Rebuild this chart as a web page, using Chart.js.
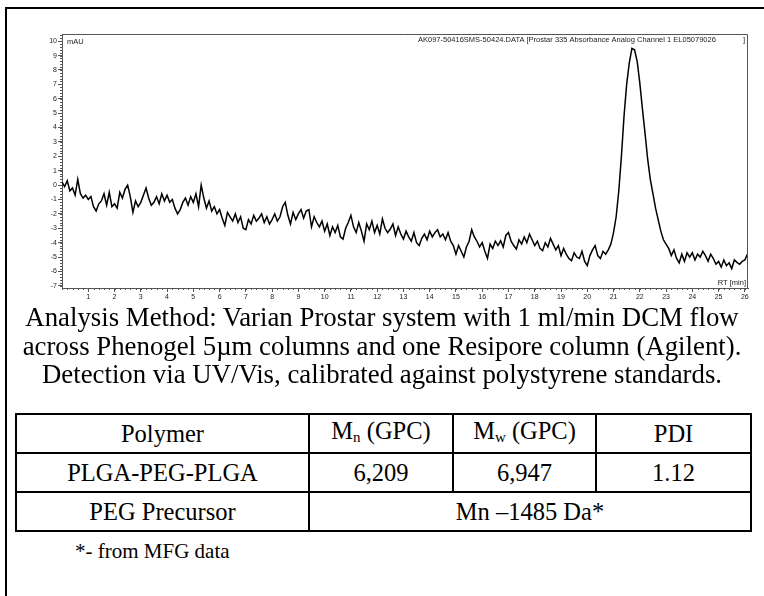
<!DOCTYPE html>
<html>
<head>
<meta charset="utf-8">
<script src="https://cdn.jsdelivr.net/npm/chart.js@4.4.1/dist/chart.umd.min.js"></script>
<style>
    body { margin: 0; background: #fff; font-family: "Liberation Serif", "Times New Roman", "DejaVu Serif", serif; }
    #frame { position: absolute; left: 5px; top: 7px; width: 800px; height: 700px; border: 2px solid #000; }
    #chartBox { position: absolute; left: 0; top: 0; width: 764px; height: 305px; }
    #method { position: absolute; left: 0; top: 303px; width: 764px; text-align: center; font-size: 26.8px; line-height: 28.5px; color: #000; }
    #results { position: absolute; left: 15px; top: 413px; width: 737px; border-collapse: collapse; font-size: 24.5px; }
    #results td { border: 2px solid #000; text-align: center; height: 37px; padding: 0; line-height: 24px; }
    #results sub { font-size: 15px; vertical-align: -3px; }
    #note { position: absolute; left: 75px; top: 539px; font-size: 21px; }
</style>
</head>
<body>
<div id="frame"></div>
<div id="chartBox"><canvas id="gpcChart" width="764" height="305"></canvas></div>
<div id="method">Analysis Method: Varian Prostar system with 1 ml/min DCM flow<br>across Phenogel 5µm columns and one Resipore column (Agilent).<br>Detection via UV/Vis, calibrated against polystyrene standards.</div>
<table id="results">
    <tr><td style="width:291px">Polymer</td><td style="width:142px">M<sub>n</sub> (GPC)</td><td style="width:141px">M<sub>w</sub> (GPC)</td><td>PDI</td></tr>
    <tr><td>PLGA-PEG-PLGA</td><td>6,209</td><td>6,947</td><td>1.12</td></tr>
    <tr><td>PEG Precursor</td><td colspan="3">Mn –1485 Da*</td></tr>
</table>
<div id="note">*- from MFG data</div>
<script>
// Chromatogram (signal every 0.1 min)
const rtStep = 0.1;
const absorbance = [
    0.2, -0.1, 0.3, -0.4, -0.2, -0.7, 0.4, -0.6, -0.9, -0.7,
    -1.0, -0.8, -1.5, -1.8, -1.3, -1.1, -0.6, -1.4, -0.5, -1.5,
    -1.3, -1.6, -0.5, -0.9, -0.3, 0.0, -0.8, -1.9, -1.1, -1.5,
    -1.2, -0.7, -0.2, -0.9, -1.4, -1.2, -0.8, -1.3, -0.6, -1.1,
    -0.7, -1.2, -1.0, -1.6, -2.0, -1.7, -1.2, -0.9, -1.4, -0.8,
    -1.2, -0.6, -1.5, 0.0, -0.9, -1.6, -1.1, -1.8, -1.5, -2.0,
    -1.7, -2.3, -2.8, -1.9, -2.2, -2.5, -2.0, -2.6, -2.2, -3.0,
    -3.1, -2.4, -2.7, -2.1, -2.5, -2.3, -2.0, -2.6, -2.2, -2.7,
    -2.4, -2.0, -2.5, -2.2, -1.5, -1.2, -2.1, -2.7, -1.9, -2.4,
    -2.0, -1.7, -2.3, -1.8, -1.7, -2.9, -2.2, -2.6, -2.9, -2.5,
    -3.2, -2.7, -3.5, -2.9, -3.3, -2.8, -3.6, -3.75, -3.0, -2.6,
    -2.1, -2.9, -3.3, -2.6, -3.2, -3.9, -2.7, -3.1, -2.5, -3.3,
    -2.8, -3.4, -2.35, -3.0, -3.3, -3.05, -2.7, -3.5, -2.9, -3.4,
    -3.75, -3.2, -3.6, -3.9, -3.3, -4.0, -4.2, -3.7, -3.4, -3.8,
    -3.2, -3.6, -3.3, -3.1, -3.6, -3.4, -3.8, -3.3, -3.9, -4.2,
    -4.8, -4.2, -4.6, -5.0, -4.3, -3.9, -3.1, -3.6, -3.9, -4.3,
    -4.0, -4.6, -5.1, -4.1, -4.4, -3.9, -4.2, -3.87, -4.3, -3.5,
    -3.3, -3.9, -4.2, -4.45, -3.8, -4.1, -3.6, -4.0, -3.4, -3.8,
    -4.2, -3.9, -4.4, -4.56, -4.0, -4.3, -3.7, -4.1, -4.5, -4.2,
    -4.9, -4.4, -4.8, -5.1, -5.25, -4.7, -5.0, -5.1, -4.6, -5.3,
    -5.6, -4.9, -4.5, -4.2, -4.9, -5.1, -4.6, -4.8, -4.5, -4.1,
    -3.3, -2.2, -0.4, 2.0, 4.8, 7.0, 8.5, 9.5, 9.4, 8.6,
    7.1, 5.3, 3.6, 1.8, 0.4, -0.6, -1.6, -2.4, -3.2, -3.8,
    -4.1, -4.4, -4.9, -4.5, -5.1, -5.4, -4.8, -5.3, -4.7, -5.0,
    -4.7, -5.2, -4.8, -5.0, -4.6, -4.9, -5.3, -4.8, -5.1, -5.5,
    -5.3, -5.7, -5.2, -5.6, -5.4, -5.8, -5.2, -5.37, -5.5, -5.3,
    -5.2, -4.8
];
const xTickValues = [1, 2, 3, 4, 5, 6, 7, 8, 9, 10, 11, 12, 13, 14, 15, 16, 17, 18, 19, 20, 21, 22, 23, 24, 25, 26];
const yTickValues = [-7, -6, -5, -4, -3, -2, -1, 0, 1, 2, 3, 4, 5, 6, 7, 8, 9, 10];
const headerText = 'AK097-50416SMS-50424.DATA [Prostar 335 Absorbance Analog Channel 1 EL05079026';

const points = absorbance.map((v, i) => ({ x: +(i * rtStep).toFixed(1), y: v }));
const axisColor = '#555';
const tickFont = { family: 'Liberation Sans, Arial', size: 7 };

// Rahmen, Nebenstriche und Beschriftungen im Diagramm
const decorations = {
    id: 'decorations',
    afterDraw(chart) {
        const c = chart.ctx;
        const a = chart.chartArea;
        const xs = chart.scales.x;
        const ys = chart.scales.y;
        c.save();
        c.strokeStyle = axisColor;
        c.lineWidth = 1;
        c.beginPath();
        c.moveTo(a.left, a.top + 0.5);
        c.lineTo(a.right - 0.5, a.top + 0.5);
        c.lineTo(a.right - 0.5, a.bottom);
        c.stroke();
        c.beginPath();
        for (let v = 0; v <= xs.max; v += 0.2) {
            const px = Math.round(xs.getPixelForValue(v)) + 0.5;
            c.moveTo(px, a.bottom);
            c.lineTo(px, a.bottom + 2);
        }
        for (let v = -7; v <= ys.max; v += 0.2) {
            const py = Math.round(ys.getPixelForValue(v)) + 0.5;
            c.moveTo(a.left, py);
            c.lineTo(a.left - 2, py);
        }
        c.stroke();
        c.fillStyle = '#222';
        c.font = '7.5px "Liberation Sans", Arial';
        c.textBaseline = 'middle';
        c.textAlign = 'left';
        c.fillText('mAU', a.left + 5, a.top + 8);
        c.fillText(headerText, 418, a.top + 6);
        c.fillText(']', a.right - 5, a.top + 6);
        c.textAlign = 'right';
        c.fillText('RT [min]', a.right - 2, a.bottom - 5);
        c.restore();
    }
};

new Chart(document.getElementById('gpcChart'), {
    type: 'line',
    data: {
        datasets: [{
            data: points,
            borderColor: '#000',
            borderWidth: 1.5,
            pointRadius: 0,
            tension: 0,
            fill: false
        }]
    },
    options: {
        responsive: false,
        animation: false,
        layout: { padding: { top: 34, right: 16, left: 0, bottom: 0 } },
        plugins: { legend: { display: false }, tooltip: { enabled: false } },
        scales: {
            x: {
                type: 'linear',
                min: 0,
                max: 26.12,
                afterFit: s => { s.height = 17; },
                afterBuildTicks: s => { s.ticks = xTickValues.map(v => ({ value: v })); },
                grid: { drawOnChartArea: false, tickLength: 4, color: axisColor },
                border: { color: axisColor, width: 1 },
                ticks: { font: tickFont, color: '#222', padding: 1, maxRotation: 0, autoSkip: false }
            },
            y: {
                min: -7.15,
                max: 10.5,
                afterFit: s => { s.width = 62; },
                afterBuildTicks: s => { s.ticks = yTickValues.map(v => ({ value: v })); },
                grid: { drawOnChartArea: false, tickLength: 4, color: axisColor },
                border: { color: axisColor, width: 1 },
                ticks: { font: tickFont, color: '#222', padding: 1, autoSkip: false }
            }
        }
    },
    plugins: [decorations]
});
</script>
</body>
</html>
